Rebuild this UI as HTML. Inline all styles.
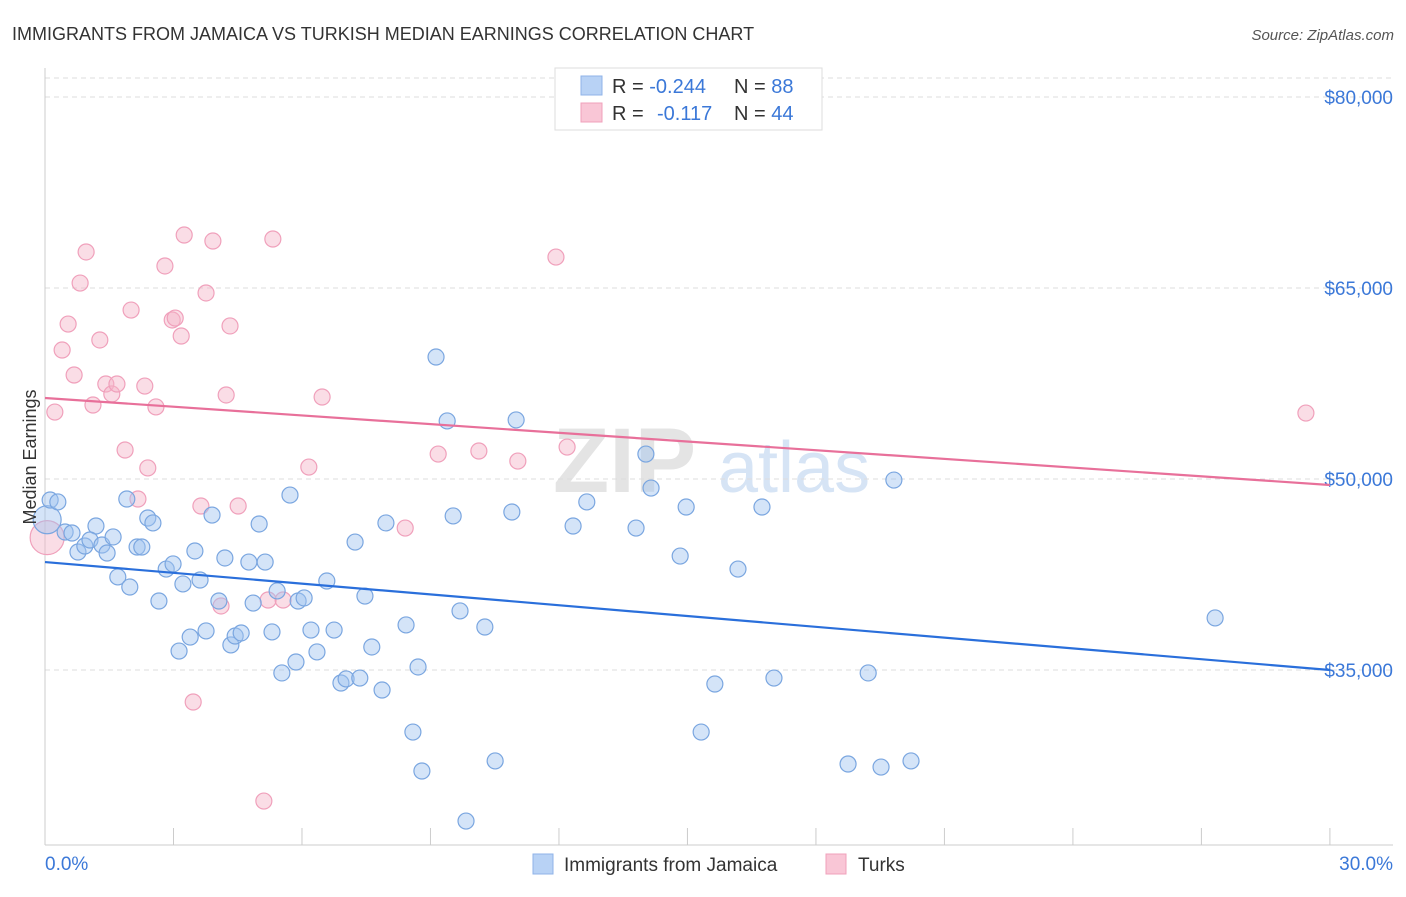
<!DOCTYPE html>
<html><head><meta charset="utf-8"><style>
body{margin:0;background:#fff;font-family:"Liberation Sans",sans-serif;}
svg text{font-family:"Liberation Sans",sans-serif;}
</style></head><body>
<svg id="chart" width="1406" height="892" xmlns="http://www.w3.org/2000/svg">
<text x="12" y="40" font-size="18" fill="#333">IMMIGRANTS FROM JAMAICA VS TURKISH MEDIAN EARNINGS CORRELATION CHART</text>
<text x="1394" y="40" font-size="15" fill="#555" font-style="italic" text-anchor="end">Source: ZipAtlas.com</text>
<g>
<text x="553" y="492" font-size="92" fill="#e4e4e4" font-family="Liberation Serif" font-weight="bold">ZIP</text>
<text x="718" y="492" font-size="72" fill="#d6e4f5">atlas</text>
</g>
<g id="grid"></g>
<g id="axes"></g>
<g id="pts"></g>
<g id="lines"></g>
<text x="36" y="457" font-size="18" fill="#333" text-anchor="middle" transform="rotate(-90 36 457)">Median Earnings</text>
<g>
<rect x="555" y="68" width="267" height="62" fill="#fff" stroke="#ddd"/>
<rect x="581" y="76" width="21" height="19" fill="#b8d2f5" stroke="#8fb3e8"/>
<rect x="581" y="103" width="21" height="19" fill="#f9c6d6" stroke="#f0a0bb"/>
<text x="612" y="93" font-size="20" fill="#333">R = <tspan fill="#3b78d8">-0.244</tspan><tspan x="734">N = </tspan><tspan fill="#3b78d8">88</tspan></text>
<text x="612" y="120" font-size="20" fill="#333">R = <tspan x="657" fill="#3b78d8">-0.117</tspan><tspan x="734">N = </tspan><tspan fill="#3b78d8">44</tspan></text>
</g>
<g>
<rect x="533" y="854" width="20" height="20" fill="#b8d2f5" stroke="#8fb3e8"/>
<text x="564" y="871" font-size="19" fill="#333">Immigrants from Jamaica</text>
<rect x="826" y="854" width="20" height="20" fill="#f9c6d6" stroke="#f0a0bb"/>
<text x="858" y="871" font-size="19" fill="#333">Turks</text>
</g>
</svg>
<script>
const yTicks=[80000,65000,50000,35000];
const yTickLabels=["$80,000","$65,000","$50,000","$35,000"];
const xTickLabels=["0.0%","30.0%"];
const blueX=[0.12,0.30,0.47,0.63,0.77,0.93,1.19,1.05,1.33,1.45,1.59,1.70,1.91,1.98,2.15,2.26,2.40,2.52,2.66,2.83,2.99,3.13,3.22,3.39,3.50,3.62,3.76,3.90,4.06,4.20,4.34,4.44,4.58,4.76,4.86,5.00,5.14,5.30,5.42,5.53,5.72,5.86,5.91,6.05,6.21,6.35,6.58,6.75,6.91,7.03,7.24,7.35,7.47,7.63,7.87,7.96,8.43,8.59,8.71,8.80,9.13,9.39,9.53,9.69,9.83,10.27,10.51,10.90,11.00,12.33,12.65,13.80,14.03,14.15,14.83,14.97,15.32,15.64,16.18,16.74,17.02,18.75,19.22,19.52,19.82,20.22,27.32];
const blueY=[48.35,48.2,45.84,45.76,44.27,44.74,46.31,45.21,44.82,44.19,45.45,42.31,48.43,41.52,44.66,44.66,46.94,46.55,40.42,42.93,43.33,36.49,41.76,37.59,44.35,42.07,38.07,47.17,40.42,43.80,36.97,37.67,37.91,43.48,40.26,46.47,43.48,37.99,41.21,34.77,48.74,35.63,40.42,40.66,38.14,36.42,41.99,38.14,33.98,34.30,45.05,34.37,40.81,36.81,33.43,46.55,38.54,30.13,35.24,27.07,59.58,54.56,47.10,39.64,23.14,38.38,27.86,47.41,54.64,46.31,48.20,46.15,51.96,49.29,43.95,47.80,30.13,33.90,42.93,47.80,34.37,27.62,34.77,27.38,49.92,27.86,39.09];
const pinkX=[0.23,0.40,0.54,0.68,0.82,0.96,1.12,1.28,1.42,1.56,1.68,1.87,2.01,2.17,2.33,2.40,2.59,2.80,2.97,3.04,3.18,3.25,3.46,3.64,3.76,3.92,4.11,4.23,4.32,4.51,5.11,5.21,5.32,5.56,6.16,6.47,8.41,9.18,10.13,11.04,11.93,12.19,29.44];
const pinkY=[55.26,60.13,62.17,58.17,65.39,67.83,55.81,60.92,57.46,56.68,57.46,52.28,63.27,48.43,57.30,50.87,55.66,66.73,62.49,62.64,61.23,69.16,32.49,47.88,64.61,68.69,40.03,56.60,62.02,47.88,24.71,40.50,68.85,40.50,50.94,56.44,46.15,51.96,52.20,51.41,67.43,52.51,55.18];
const bigBlue=[0.05,46.8];
const bigPink=[0.05,45.4];
const blueTrend=[43.48,35.0];
const pinkTrend=[56.36,49.53];
const NS="http://www.w3.org/2000/svg";
const X=p=>45+p*42.83;
const Y=k=>97+(80-k)/0.07853;
function mk(tag,at,parent){const e=document.createElementNS(NS,tag);for(const k in at)e.setAttribute(k,at[k]);document.getElementById(parent).appendChild(e);return e;}
// grid
let g=mk('line',{x1:45,x2:1393,y1:78,y2:78,stroke:'#ddd','stroke-dasharray':'5,4'},'grid');


yTicks.forEach((v,i)=>{
 const y=Y(v/1000);
 const l=mk('line',{x1:45,x2:1393,y1:y,y2:y,stroke:'#ddd','stroke-dasharray':'5,4'},'grid');
 
 
 const t=mk('text',{x:1393,y:y+7,'font-size':19,fill:'#3b78d8','text-anchor':'end'},'axes');
 t.textContent=yTickLabels[i];
 
 
});
let a=mk('line',{x1:45,x2:45,y1:68,y2:845,stroke:'#ccc'},'axes');


a=mk('line',{x1:45,x2:1393,y1:845,y2:845,stroke:'#ccc'},'axes');


for(let i=1;i<=10;i++){const x=X(i*3);const t=mk('line',{x1:x,x2:x,y1:828,y2:845,stroke:'#ccc'},'axes');
 
 }
let t0=mk('text',{x:45,y:870,'font-size':19,fill:'#3b78d8'},'axes');t0.textContent=xTickLabels[0];


let t1=mk('text',{x:1393,y:870,'font-size':19,fill:'#3b78d8','text-anchor':'end'},'axes');t1.textContent=xTickLabels[1];


function dot(x,y,r,fill,stroke,name){const c=mk('circle',{cx:X(x),cy:Y(y),r:r,fill:fill,stroke:stroke,'stroke-width':1.2},'pts');
 
 }
dot(bigPink[0],bigPink[1],17,'rgba(245,180,200,0.45)','#f0a0bb','turks-point-large');
dot(bigBlue[0],bigBlue[1],14,'rgba(160,196,240,0.45)','#7aa6e0','jamaica-point-large');
pinkX.forEach((x,i)=>dot(x,pinkY[i],8,'rgba(245,180,200,0.45)','#f0a0bb','turks-point'));
blueX.forEach((x,i)=>dot(x,blueY[i],8,'rgba(160,196,240,0.45)','#7aa6e0','jamaica-point'));
let bl=mk('line',{x1:X(0),y1:Y(blueTrend[0]),x2:X(30),y2:Y(blueTrend[1]),stroke:'#2a6fdb','stroke-width':2.2},'lines');


let pl=mk('line',{x1:X(0),y1:Y(pinkTrend[0]),x2:X(30),y2:Y(pinkTrend[1]),stroke:'#e8709a','stroke-width':2.2},'lines');


</script>
</body></html>
